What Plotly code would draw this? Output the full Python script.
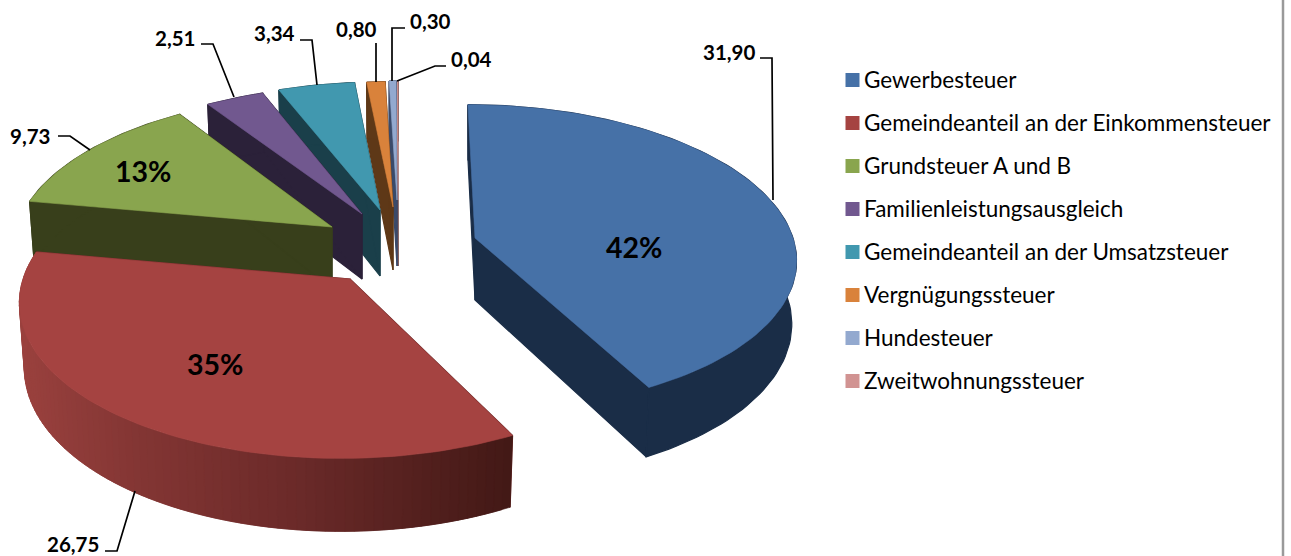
import math
import plotly.graph_objects as go

# ---- data ----
categories = ["Gewerbesteuer", "Gemeindeanteil an der Einkommensteuer", "Grundsteuer A und B",
              "Familienleistungsausgleich", "Gemeindeanteil an der Umsatzsteuer",
              "Vergnügungssteuer", "Hundesteuer", "Zweitwohnungssteuer"]
values = [31.90, 26.75, 9.73, 2.51, 3.34, 0.80, 0.30, 0.04]

# ---- styling ----
top_colors = ["#4671A7", "#A54341", "#89A54E", "#71588F", "#4198AF", "#D9823B", "#93A9CF", "#D19392"]
wall_colors = ["#1A2D47", "#6B2A29", "#383F1B", "#2B2139", "#1A3F4A", "#5E3817", "#3A4A6A", "#6A4040"]
red_wall_x = [20, 135, 300, 513]
red_wall_rgb = [(154, 65, 62), (132, 54, 52), (107, 42, 41), (67, 25, 22)]

# exploded-slice projection: apex x, apex y, k (x radius), m (y radius), shear, depth
proj = [
    (475, 238, 318, 150, 8, 62),
    (350, 279, 327, 157, -8, 64),
    (332, 227, 315, 149, -6, 62),
    (362, 214, 317, 145, -5, 65),
    (380, 210, 312, 144, -1, 66),
    (393, 207, 312, 141, 0, 63),
    (397, 200, 312, 134, 0, 66),
    (398, 200, 312, 134, 0, 66),
]
P = 0.125
KB, MB = 0.985, 1.05

total = sum(values)
starts, a = [], 0.0
for v in values:
    starts.append(a)
    a += v / total * 2 * math.pi
ends = [s + v / total * 2 * math.pi for s, v in zip(starts, values)]


def rim(i, th, bottom=False):
    cx, cy, k, m, s, d = proj[i]
    X, Y = math.sin(th), -math.cos(th)
    den = 1 - P * Y
    if bottom:
        return cx + KB * (k * X + s * Y) / den, cy + d + MB * m * Y / den
    return cx + (k * X + s * Y) / den, cy + m * Y / den


def apex(i, bottom=False):
    cx, cy, k, m, s, d = proj[i]
    return (cx, cy + d) if bottom else (cx, cy)


def poly(pts, color, lw=0.6):
    xs = [p[0] for p in pts] + [pts[0][0]]
    ys = [p[1] for p in pts] + [pts[0][1]]
    return go.Scatter(x=xs, y=ys, mode="lines", fill="toself", fillcolor=color,
                      line=dict(color=color, width=lw), hoverinfo="skip", showlegend=False)


def red_color(x):
    x = max(red_wall_x[0], min(red_wall_x[-1], x))
    for j in range(len(red_wall_x) - 1):
        if x <= red_wall_x[j + 1]:
            t = (x - red_wall_x[j]) / (red_wall_x[j + 1] - red_wall_x[j])
            c = [round(u + (w - u) * t) for u, w in zip(red_wall_rgb[j], red_wall_rgb[j + 1])]
            return f"rgb({c[0]},{c[1]},{c[2]})"


fig = go.Figure()
order = [7, 6, 5, 4, 3, 2, 0, 1]
for i in order:
    th0, th1 = starts[i], ends[i]
    wc = wall_colors[i]
    n = max(3, int((th1 - th0) / math.radians(1.5)))
    ths = [th0 + (th1 - th0) * j / n for j in range(n + 1)]
    # radial faces
    for th in (th0, th1):
        fig.add_trace(poly([rim(i, th), apex(i), apex(i, True), rim(i, th, True)], wc, 1.2))
    # outer wall
    if i == 1:
        # drawn from the far left end towards the front, each strip overlapping the next one
        for j in range(n):
            a0, a1 = ths[j], ths[min(j + 2, n)]
            col = red_color(rim(i, ths[j])[0])
            fig.add_trace(poly([rim(i, a0), rim(i, a1), rim(i, a1, True), rim(i, a0, True)], col))
    else:
        pts = [rim(i, t) for t in ths] + [rim(i, t, True) for t in reversed(ths)]
        fig.add_trace(poly(pts, wc, 1.2))
    # top face
    fig.add_trace(poly([apex(i)] + [rim(i, t) for t in ths], top_colors[i]))

# ---- leader lines and value labels ----
leaders = [
    [(760, 58), (772, 58), (773, 200)],
    [(135, 491), (117, 551), (105, 551)],
    [(58, 136), (70, 136), (90, 150)],
    [(201, 44), (213, 44), (234, 97)],
    [(300, 40), (312, 40), (317, 85)],
    [(376, 43), (376, 82)],
    [(392, 81), (392, 28), (405, 28)],
    [(397, 81), (435, 66), (446, 66)],
]
for pts in leaders:
    fig.add_trace(go.Scatter(x=[p[0] for p in pts], y=[p[1] for p in pts], mode="lines",
                             line=dict(color="#000000", width=1.7), hoverinfo="skip", showlegend=False))

value_pos = [(729, 52), (73, 544), (30, 136), (175, 38), (274, 33), (356, 29), (430, 21), (471, 59)]
for v, (x, y) in zip(values, value_pos):
    fig.add_annotation(x=x, y=y, text=f"<b>{v:.2f}</b>".replace(".", ","), showarrow=False,
                       font=dict(family="Lato", size=20.5, color="#000000"))

pct_pos = {0: (634, 247), 1: (215, 364), 2: (143, 171)}
for i, (x, y) in pct_pos.items():
    fig.add_annotation(x=x, y=y, text=f"<b>{round(values[i] / total * 100)}%</b>", showarrow=False,
                       font=dict(family="Lato", size=28.5, color="#000000"))

# ---- legend: native entries for the names, square keys placed beside them ----
LEGEND_KEY_X, LEGEND_TOP, LEGEND_STEP = 852.5, 80, 43
for i, c in enumerate(categories):
    fig.add_trace(go.Scatter(x=[None], y=[None], mode="lines", name=c, legendgroup=c,
                             line=dict(color="rgba(0,0,0,0)", width=1)))
    fig.add_trace(go.Scatter(x=[LEGEND_KEY_X], y=[LEGEND_TOP + LEGEND_STEP * i], mode="markers",
                             marker=dict(symbol="square", size=14, color=top_colors[i]),
                             hoverinfo="skip", showlegend=False))

# frame line on the right
fig.add_shape(type="line", x0=1283, x1=1283, y0=0, y1=556, line=dict(color="#9A9A9A", width=2.5))

fig.update_layout(
    width=1291, height=556, margin=dict(l=0, r=0, t=0, b=0),
    paper_bgcolor="white", plot_bgcolor="white",
    xaxis=dict(range=[0, 1291], visible=False, fixedrange=True),
    yaxis=dict(range=[556, 0], visible=False, fixedrange=True),
    font=dict(family="Lato", color="#000000"),
    showlegend=True,
    legend=dict(x=824 / 1291, xanchor="left", y=1 - 58 / 556, yanchor="top",
                font=dict(family="Lato", size=22.5, color="#000000"),
                tracegroupgap=10.7, bgcolor="rgba(0,0,0,0)", itemclick=False, itemdoubleclick=False),
)
fig.write_html("out.html", config={"displayModeBar": False},
               post_script="document.body.style.margin='0';document.body.style.overflow='hidden';")
